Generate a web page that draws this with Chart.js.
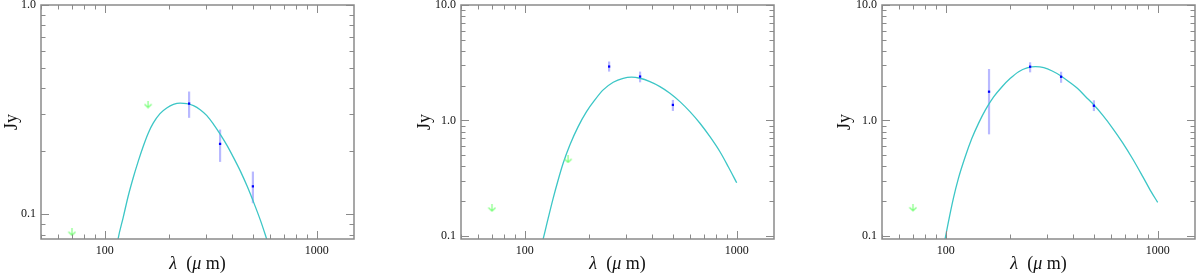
<!DOCTYPE html>
<html><head><meta charset="utf-8">
<script src="https://cdn.jsdelivr.net/npm/chart.js@4.4.1/dist/chart.umd.min.js"></script>
<style>
html,body{margin:0;padding:0;background:#fff;width:1200px;height:276px;overflow:hidden}
.p{position:absolute;top:0;width:400px;height:276px}
canvas{display:block}
</style></head><body>
<div class="p" style="left:0"><canvas id="c1" width="400" height="276"></canvas></div>
<div class="p" style="left:400px"><canvas id="c2" width="400" height="276"></canvas></div>
<div class="p" style="left:800px"><canvas id="c3" width="400" height="276"></canvas></div>
<script>
// ---------- data ----------
const xTickValues = [100, 1000];
const xTickLabels = ['100', '1000'];
const yTickValues1 = [0.1, 1];
const yTickLabels1 = ['0.1', '1.0'];
const yTickValues23 = [0.1, 1, 10];
const yTickLabels23 = ['0.1', '1.0', '10.0'];
const yTitle = 'Jy';
const xTitleParts = [['λ', 'italic'], ['  (', 'normal'], ['μ', 'italic'], [' m)', 'normal']];

// panel 1
const p1DetLambda = [250, 350, 500];
const p1DetFlux   = [0.338, 0.217, 0.136];
const p1ErrLo     = [0.289, 0.178, 0.113];
const p1ErrHi     = [0.386, 0.254, 0.160];
const p1LimLambda = [70, 160];
const p1LimFlux   = [0.082, 0.334];
const p1FitLambda = [112, 115.7, 122.1, 129.0, 136.2, 143.9, 151.9, 160.5, 169.5, 182.2, 196.0, 210.8, 226.7, 243.8, 262.2, 282, 303.2, 326.1, 350.8, 377.3, 405.8, 436.4, 469.4, 504.7, 542.8, 577.5, 595];
const p1FitFlux   = [0.062, 0.0768, 0.0964, 0.1223, 0.1495, 0.1795, 0.2115, 0.2448, 0.2732, 0.3027, 0.322, 0.335, 0.340, 0.338, 0.3304, 0.316, 0.296, 0.269, 0.241, 0.2134, 0.186, 0.1608, 0.1364, 0.1137, 0.0935, 0.0775, 0.0705];

// panel 2
const p2DetLambda = [250, 350, 500];
const p2DetFlux   = [2.93, 2.40, 1.363];
const p2ErrLo     = [2.65, 2.14, 1.209];
const p2ErrHi     = [3.24, 2.65, 1.506];
const p2LimLambda = [70, 160];
const p2LimFlux   = [0.174, 0.459];
const p2FitLambda = [118, 122.1, 128.9, 136.1, 143.7, 151.7, 163.2, 178.6, 195.6, 214.1, 234.4, 261.4, 291.3, 319.2, 349.3, 389.5, 434.2, 484, 539.8, 601.6, 670.8, 747.9, 833.8, 912.7, 1000];
const p2FitFlux   = [0.075, 0.094, 0.1418, 0.2114, 0.305, 0.4256, 0.613, 0.884, 1.192, 1.506, 1.839, 2.143, 2.32, 2.37, 2.32, 2.17, 1.965, 1.722, 1.456, 1.192, 0.946, 0.7236, 0.536, 0.3975, 0.2888];

// panel 3
const p3DetLambda = [160, 250, 350, 500];
const p3DetFlux   = [1.774, 2.92, 2.39, 1.341];
const p3ErrLo     = [0.758, 2.61, 2.12, 1.206];
const p3ErrHi     = [2.79, 3.19, 2.64, 1.494];
const p3LimLambda = [70];
const p3LimFlux   = [0.175];
const p3FitLambda = [97, 99.2, 102.9, 108.6, 114.7, 123.5, 132.8, 142.7, 153.6, 168.2, 184.3, 201.7, 220.8, 242.0, 265.0, 290.1, 318.0, 348.1, 381.1, 417.8, 457.3, 500.6, 548.7, 611.9, 682.6, 761.3, 849.1, 929.3, 1000];
const p3FitFlux   = [0.075, 0.094, 0.1322, 0.211, 0.3147, 0.4844, 0.6996, 0.9437, 1.23, 1.60, 1.96, 2.317, 2.645, 2.848, 2.92, 2.865, 2.682, 2.442, 2.166, 1.898, 1.606, 1.36, 1.116, 0.86, 0.643, 0.466, 0.328, 0.243, 0.195];

// ---------- style ----------
const SERIF = '"Liberation Serif", "DejaVu Serif", serif';
const FRAME = '#8a8a8a';
const FIT_COLOR = '#3cc6c6';
const PT_COLOR = '#0000ff';
const ERR_COLOR = '#b9b9ff';
const LIM_COLOR = '#77ff77';

function makeArrow() {
  const c = document.createElement('canvas');
  c.width = 9; c.height = 8;
  const g = c.getContext('2d');
  g.strokeStyle = LIM_COLOR; g.lineWidth = 1.1;
  g.beginPath();
  g.moveTo(4.5, 0); g.lineTo(4.5, 7);
  g.moveTo(1, 3.5); g.lineTo(4.5, 7); g.lineTo(8, 3.5);
  g.stroke();
  return c;
}
const arrowImg = makeArrow();

function zip(xs, ys) { return xs.map((x, i) => ({x: x, y: ys[i]})); }

function minorList(min, max) {
  const out = [];
  for (let e = Math.floor(Math.log10(min)) - 1; e <= Math.ceil(Math.log10(max)); e++) {
    for (let m = 1; m <= 9; m++) {
      const v = m * Math.pow(10, e);
      if (v >= min * 0.999 && v <= max * 1.001) out.push({v: v, major: m === 1});
    }
  }
  return out;
}

const framePlugin = {
  id: 'frameTicks',
  afterDatasetsDraw(chart) {
    const ctx = chart.ctx, a = chart.chartArea;
    const xs = chart.scales.x, ys = chart.scales.y;
    ctx.save();
    ctx.strokeStyle = FRAME;
    ctx.lineWidth = 1;
    const MAJ = 8, MIN = 4.5;
    ctx.beginPath();
    minorList(xs.min, xs.max).forEach(t => {
      const px = Math.round(xs.getPixelForValue(t.v)) + 0.5;
      const L = t.major ? MAJ : MIN;
      ctx.moveTo(px, a.bottom); ctx.lineTo(px, a.bottom - L);
      ctx.moveTo(px, a.top); ctx.lineTo(px, a.top + L);
    });
    minorList(ys.min, ys.max).forEach(t => {
      const py = Math.round(ys.getPixelForValue(t.v)) + 0.5;
      const L = t.major ? MAJ : MIN;
      ctx.moveTo(a.left, py); ctx.lineTo(a.left + L, py);
      ctx.moveTo(a.right, py); ctx.lineTo(a.right - L, py);
    });
    ctx.stroke();
    ctx.lineWidth = 1.5;
    ctx.strokeRect(a.left, a.top, a.right - a.left, a.bottom - a.top);
    ctx.restore();
  },
  afterDraw(chart) {
    const ctx = chart.ctx, a = chart.chartArea;
    ctx.save();
    ctx.fillStyle = '#111';
    ctx.textBaseline = 'middle';
    ctx.textAlign = 'left';
    let total = 0;
    const widths = xTitleParts.map(p => {
      ctx.font = p[1] + ' 18px ' + SERIF;
      const w = ctx.measureText(p[0]).width; total += w; return w;
    });
    let x = (a.left + a.right) / 2 - total / 2;
    xTitleParts.forEach((p, i) => {
      ctx.font = p[1] + ' 18px ' + SERIF;
      ctx.fillText(p[0], x, 264);
      x += widths[i];
    });
    ctx.restore();
  }
};

function makePanel(id, cfg) {
  const datasets = [];
  datasets.push({
    data: zip(cfg.detL, cfg.detF), pointStyle: 'rect', pointRadius: 1.6,
    backgroundColor: PT_COLOR, borderColor: PT_COLOR, borderWidth: 0, showLine: false
  });
  datasets.push({
    data: zip(cfg.limL, cfg.limF), pointStyle: arrowImg, pointRadius: 4, showLine: false
  });
  datasets.push({
    data: zip(cfg.fitL, cfg.fitF), showLine: true, pointRadius: 0,
    borderColor: FIT_COLOR, borderWidth: 1.3, cubicInterpolationMode: 'monotone', fill: false
  });
  cfg.detL.forEach((l, i) => {
    datasets.push({
      data: [{x: l, y: cfg.errLo[i]}, {x: l, y: cfg.errHi[i]}], showLine: true,
      pointRadius: 0, borderColor: ERR_COLOR, borderWidth: 2.2, fill: false
    });
  });
  new Chart(document.getElementById(id), {
    type: 'scatter',
    data: {datasets: datasets},
    plugins: [framePlugin],
    options: {
      responsive: false, animation: false, events: [],
      devicePixelRatio: 1,
      layout: {padding: {left: cfg.padL, right: 400 - cfg.plotR, top: 5, bottom: 0}},
      plugins: {legend: {display: false}, tooltip: {enabled: false}},
      scales: {
        x: {
          type: 'logarithmic', min: 50, max: 1500,
          grid: {display: false, drawTicks: false}, border: {display: false},
          ticks: {
            autoSkip: false, maxRotation: 0, padding: 5, color: '#111',
            font: {family: SERIF, size: 12},
            callback: (v, i) => xTickLabels[i]
          },
          afterBuildTicks: s => { s.ticks = xTickValues.map(v => ({value: v})); },
          afterFit: s => { s.height = 37; s.paddingLeft = 0; s.paddingRight = 0; }
        },
        y: {
          type: 'logarithmic', min: cfg.yMin, max: cfg.yMax,
          grid: {display: false, drawTicks: false}, border: {display: false},
          title: {display: true, text: yTitle, color: '#111', padding: 0,
                  font: {family: SERIF, size: 18}},
          ticks: {
            autoSkip: false, padding: 5, color: '#111',
            font: {family: SERIF, size: 12},
            callback: (v, i) => cfg.yLabels[i]
          },
          afterBuildTicks: s => { s.ticks = cfg.yVals.map(v => ({value: v})); },
          afterFit: s => { s.width = cfg.plotL - cfg.padL; s.paddingTop = 0; s.paddingBottom = 0; }
        }
      }
    }
  });
}

makePanel('c1', {detL: p1DetLambda, detF: p1DetFlux, errLo: p1ErrLo, errHi: p1ErrHi,
  limL: p1LimLambda, limF: p1LimFlux, fitL: p1FitLambda, fitF: p1FitFlux,
  yMin: 0.0762, yMax: 1, yVals: yTickValues1, yLabels: yTickLabels1,
  padL: 1, plotL: 41, plotR: 354});
makePanel('c2', {detL: p2DetLambda, detF: p2DetFlux, errLo: p2ErrLo, errHi: p2ErrHi,
  limL: p2LimLambda, limF: p2LimFlux, fitL: p2FitLambda, fitF: p2FitFlux,
  yMin: 0.094, yMax: 10, yVals: yTickValues23, yLabels: yTickLabels23,
  padL: 14, plotL: 61, plotR: 374});
makePanel('c3', {detL: p3DetLambda, detF: p3DetFlux, errLo: p3ErrLo, errHi: p3ErrHi,
  limL: p3LimLambda, limF: p3LimFlux, fitL: p3FitLambda, fitF: p3FitFlux,
  yMin: 0.094, yMax: 10, yVals: yTickValues23, yLabels: yTickLabels23,
  padL: 34, plotL: 82, plotR: 395});
</script>
</body></html>
